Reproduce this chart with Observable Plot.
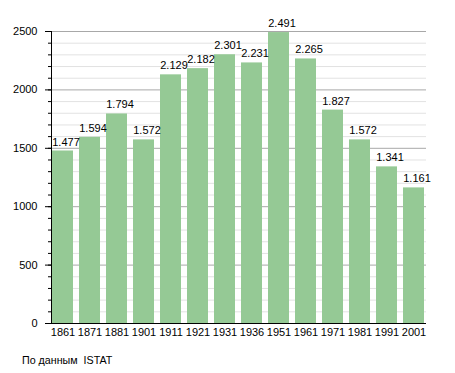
<!DOCTYPE html>
<html>
<head>
<meta charset="utf-8">
<script src="https://cdn.jsdelivr.net/npm/d3@7"></script>
<script src="https://cdn.jsdelivr.net/npm/@observablehq/plot@0.6"></script>
<style>
  body { margin: 0; background: #fff; font-family: "Liberation Sans", Arial, sans-serif; }
  #chart svg { display: block; }
  #caption { font-size: 10.7px; color: #000; padding-left: 22px; margin-top: 9px; white-space: pre; }
</style>
</head>
<body>
<div id="chart"></div>
<div id="caption">По данным  ISTAT</div>
<script>
const years = ["1861","1871","1881","1901","1911","1921","1931","1936","1951","1961","1971","1981","1991","2001"];
const population = [1477,1594,1794,1572,2129,2182,2301,2231,2491,2265,1827,1572,1341,1161];
const majorTicks = [0,500,1000,1500,2000,2500];
const minorTicks = d3.range(0, 2501, 100);

const data = years.map((y, i) => ({year: y, value: population[i]}));
const fmt = v => d3.format(",")(v).replace(/,/g, ".");

const chart = Plot.plot({
  width: 455,
  height: 345,
  marginTop: 31,
  marginBottom: 22,
  marginLeft: 51,
  marginRight: 29,
  style: {fontFamily: "'Liberation Sans', Arial, sans-serif", fontSize: "11px", color: "#000"},
  x: {domain: years, paddingInner: 0.22, paddingOuter: 0, label: null},
  y: {domain: [0, 2500], label: null},
  marks: [
    Plot.ruleY(minorTicks.filter(t => t % 500 !== 0), {stroke: "#e2e2e2", strokeWidth: 1}),
    Plot.ruleY(majorTicks.filter(t => t > 0), {stroke: "#a8a8a8", strokeWidth: 1}),
    Plot.barY(data, {x: "year", y: "value", fill: "#95c995"}),
    Plot.text(data, {x: "year", y: "value", text: d => fmt(d.value), dy: -9, dx: 3, fontSize: 11, fill: "#000"}),
    Plot.axisY(minorTicks, {tickSize: 3, text: null, label: null, stroke: "#000", strokeOpacity: 1}),
    Plot.axisY(majorTicks, {tickSize: 6, tickPadding: 8, tickFormat: d => String(d), label: null, stroke: "#000", strokeOpacity: 1, fontSize: 11}),
    Plot.axisX({tickSize: 0, tickPadding: 5, label: null, fontSize: 11}),
    Plot.ruleY([0], {stroke: "#000"}),
    Plot.frame({anchor: "left", stroke: "#000"}),
  ]
});
document.getElementById("chart").appendChild(chart);
</script>
</body>
</html>
